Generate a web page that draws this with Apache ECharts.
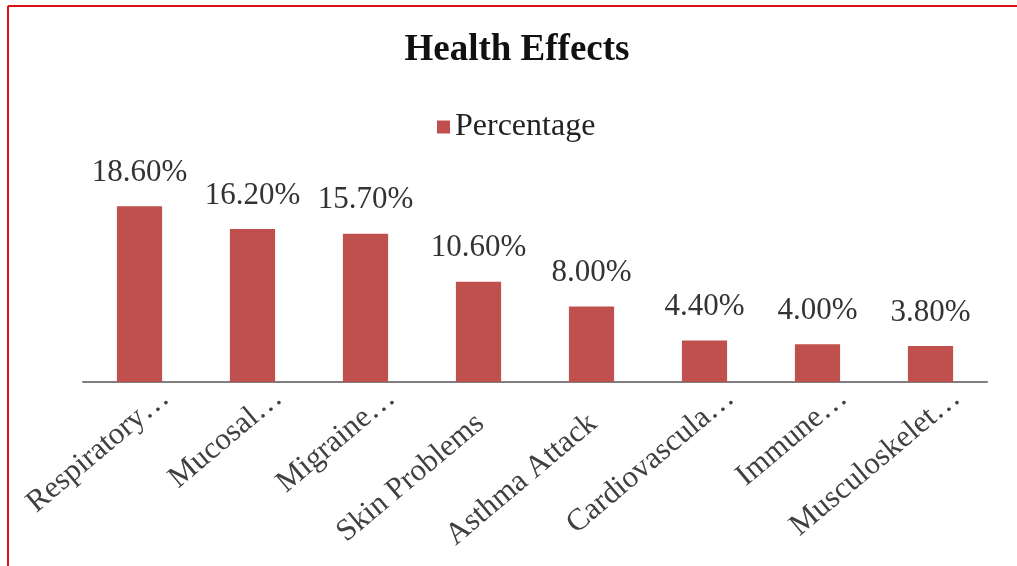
<!DOCTYPE html>
<html>
<head>
<meta charset="utf-8">
<script src="https://cdn.jsdelivr.net/npm/echarts@6/dist/echarts.min.js"></script>
<style>
html,body{margin:0;padding:0;background:#fff;}
#chart{width:1017px;height:566px;}
</style>
</head>
<body>
<div id="chart"></div>
<script>
var categories = ["Respiratory\u2026", "Mucosal\u2026", "Migraine\u2026", "Skin Problems", "Asthma Attack", "Cardiovascula\u2026", "Immune\u2026", "Musculoskelet\u2026"];
var percentages = [18.6, 16.2, 15.7, 10.6, 8.0, 4.4, 4.0, 3.8];
var seriesName = "Percentage";
var chartTitle = "Health Effects";

var chart = echarts.init(document.getElementById('chart'));
var serif = '"Liberation Serif", "Times New Roman", serif';
var labelFont = { fontFamily: serif, fontSize: 31, color: '#404040' };
chart.setOption({
  backgroundColor: '#ffffff',
  animation: false,
  title: {
    text: chartTitle,
    left: 512,
    textAlign: 'center',
    top: 27,
    textStyle: { fontFamily: serif, fontSize: 37, fontWeight: 'bold', color: '#111111' }
  },
  legend: {
    data: [seriesName],
    left: 432,
    top: 106,
    icon: 'rect',
    itemWidth: 13,
    itemHeight: 13,
    textStyle: { fontFamily: serif, fontSize: 32, color: '#222222' }
  },
  grid: [
    { left: 83, right: 30, top: 193, bottom: 184, containLabel: false, outerBoundsMode: 'none' },
    { left: 109, right: 4, top: 193, bottom: 184, containLabel: false, outerBoundsMode: 'none' }
  ],
  xAxis: [{
    type: 'category',
    gridIndex: 0,
    data: categories,
    axisLine: { show: true, lineStyle: { color: '#7f7f7f', width: 2 } },
    axisTick: { show: false },
    axisLabel: { show: false }
  }, {
    type: 'category',
    gridIndex: 1,
    data: categories,
    axisLine: { show: false },
    axisTick: { show: false },
    axisLabel: {
      interval: 0,
      rotate: 40,
      margin: 12,
      fontFamily: serif,
      fontSize: 31,
      color: '#404040',
      formatter: function (v) {
        return v.slice(-1) === '\u2026' ? v : '{full|' + v + '}';
      },
      rich: {
        full: { fontFamily: serif, fontSize: 31, color: '#404040', padding: [8, 35, 0, 0] }
      }
    }
  }],
  yAxis: [
    { type: 'value', gridIndex: 0, min: 0, max: 20, show: false, splitLine: { show: false } },
    { type: 'value', gridIndex: 1, min: 0, max: 20, show: false, splitLine: { show: false } }
  ],
  series: [{
    name: seriesName,
    type: 'bar',
    xAxisIndex: 0,
    yAxisIndex: 0,
    data: percentages,
    barWidth: '40%',
    itemStyle: { color: '#C0504D' },
    label: {
      show: true,
      position: 'top',
      distance: 18,
      fontFamily: serif,
      fontSize: 31,
      color: '#333333',
      formatter: function (p) { return p.value.toFixed(2) + '%'; }
    }
  }],
  graphic: [
    { type: 'line', shape: { x1: 8, y1: 6, x2: 1017, y2: 6 }, style: { stroke: '#dd1111', lineWidth: 2 } },
    { type: 'line', shape: { x1: 8, y1: 6, x2: 8, y2: 566 }, style: { stroke: '#dd1111', lineWidth: 2 } }
  ]
});
</script>
</body>
</html>
